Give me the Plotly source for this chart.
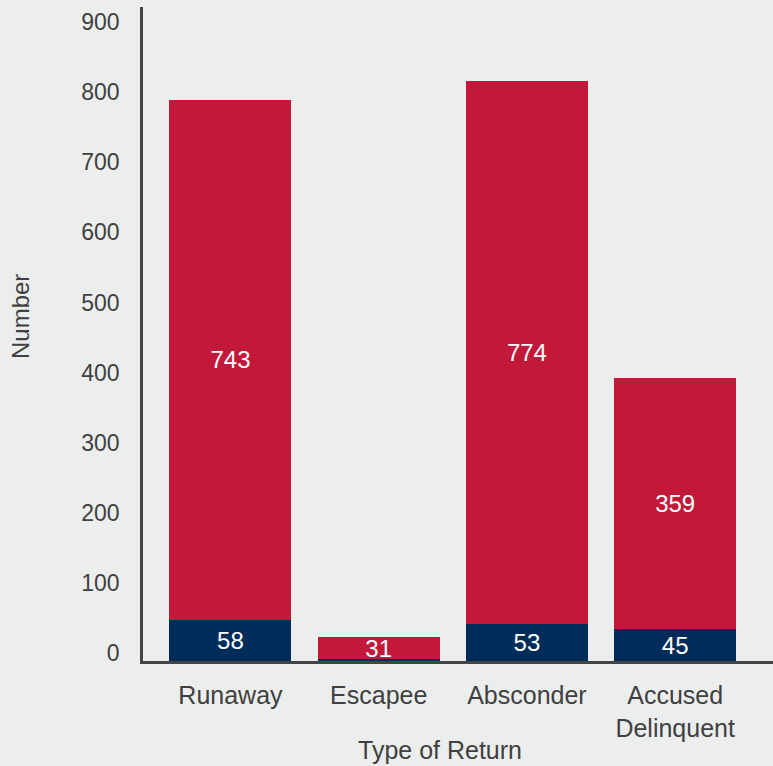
import plotly.graph_objects as go

categories = ["Runaway", "Escapee", "Absconder", "Accused<br>Delinquent"]
navy_values = [58, 3, 53, 45]
crimson_values = [743, 31, 774, 359]
navy_labels = ["58", "", "53", "45"]
crimson_labels = ["743", "31", "774", "359"]
y_ticks = [0, 100, 200, 300, 400, 500, 600, 700, 800, 900]

NAVY = "#002C5A"
CRIMSON = "#C2183A"
BG = "#ECEEED"
TXT = "#404040"
FONT = "Liberation Sans, Arial, sans-serif"

fig = go.Figure()
fig.add_trace(go.Bar(
    x=categories, y=navy_values, marker=dict(color=NAVY, line=dict(width=0)),
    width=0.823, text=navy_labels, textposition="inside", textangle=0,
    insidetextanchor="middle", constraintext="none",
    textfont=dict(color="white", size=24, family=FONT), showlegend=False,
))
fig.add_trace(go.Bar(
    x=categories, y=crimson_values, marker=dict(color=CRIMSON, line=dict(width=0)),
    width=0.823, text=crimson_labels, textposition="inside", textangle=0,
    insidetextanchor="middle", constraintext="none",
    textfont=dict(color="white", size=24, family=FONT), showlegend=False,
))

fig.update_layout(
    barmode="stack",
    width=773, height=766,
    paper_bgcolor=BG, plot_bgcolor=BG,
    margin=dict(l=143, r=0, t=7, b=105),
    font=dict(family=FONT, color=TXT, size=23),
    xaxis=dict(
        range=[-0.59, 3.66], showline=True, linecolor="#444444", linewidth=3,
        showgrid=False, ticks="", tickfont=dict(size=25, color=TXT),
        zeroline=False, ticklabelstandoff=10,
    ),
    yaxis=dict(
        range=[0, 933], showline=True, linecolor="#444444", linewidth=2.5,
        showgrid=False, zeroline=False, ticks="", tickvals=y_ticks,
        tickfont=dict(size=23, color=TXT), ticklabelshift=-8,
        ticklabelstandoff=16,
    ),
    annotations=[
        dict(text="Number", x=20, xref="paper", y=0.5, yref="paper",
             textangle=-90, showarrow=False, font=dict(size=24, color=TXT),
             xanchor="center", yanchor="middle"),
        dict(text="Type of Return", x=0.5, xref="paper", y=0, yref="paper",
             showarrow=False, font=dict(size=25, color=TXT),
             xanchor="center", yanchor="middle"),
    ],
)
# position the axis titles in pixel terms relative to the plot area
plot_w = 773 - 143
plot_h = 766 - 105 - 7
fig.layout.annotations[0].update(x=(20 - 143) / plot_w, y=(661 - 317) / plot_h)
fig.layout.annotations[1].update(x=(440 - 143) / plot_w, y=(661 - 750) / plot_h)

fig.write_html(
    "out.html",
    config={"displayModeBar": False},
    post_script="document.body.style.margin='0';document.body.style.background='#ECEEED';",
)
